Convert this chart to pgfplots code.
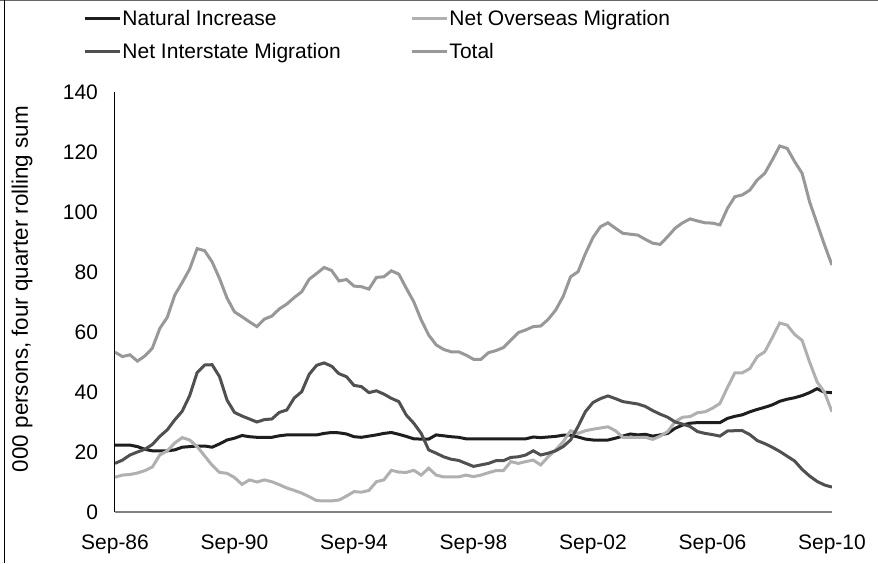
\documentclass[border=0pt]{standalone}
\usepackage{pgfplots}
\pgfplotsset{compat=1.18}
\usepackage{pgfplotstable}
\usepackage{fontspec}
\setmainfont{Liberation Sans}
\definecolor{cNI}{HTML}{1E1E1E}
\definecolor{cNOM}{HTML}{B0B0B0}
\definecolor{cNIM}{HTML}{505050}
\definecolor{cTot}{HTML}{989898}
\pgfplotstableread{
q ni nom nim tot
0 22.3 11.6 16.2 53.3
1 22.3 12.3 17.3 51.8
2 22.3 12.5 19.0 52.4
3 21.8 13.0 20.0 50.3
4 20.9 13.8 20.9 52.0
5 20.4 15.0 22.5 54.6
6 20.4 19.0 25.2 61.2
7 20.4 20.4 27.4 64.9
8 20.7 23.0 30.7 72.3
9 21.6 24.8 33.6 76.5
10 21.8 24.0 38.8 81.0
11 22.0 21.8 46.5 87.8
12 22.0 18.7 49.0 87.1
13 21.6 15.6 49.1 83.4
14 22.7 13.2 45.1 77.8
15 24.0 12.9 37.3 71.3
16 24.6 11.5 33.2 66.7
17 25.5 9.2 32.0 65.1
18 25.1 10.7 31.0 63.4
19 24.9 10.0 30.0 61.8
20 24.9 10.7 30.8 64.3
21 24.9 10.1 31.0 65.3
22 25.4 9.1 33.2 67.7
23 25.7 8.0 34.0 69.3
24 25.7 7.2 38.0 71.5
25 25.7 6.3 40.1 73.4
26 25.7 5.1 45.9 77.6
27 25.7 3.8 48.9 79.5
28 26.2 3.7 49.7 81.5
29 26.5 3.7 48.6 80.5
30 26.4 4.0 46.1 77.0
31 26.0 5.3 45.1 77.5
32 25.1 6.8 42.2 75.3
33 24.9 6.6 41.8 75.1
34 25.3 7.2 39.8 74.3
35 25.7 10.1 40.4 78.2
36 26.2 10.7 39.3 78.4
37 26.5 13.9 37.9 80.4
38 25.9 13.3 36.8 79.3
39 25.2 13.2 32.3 74.6
40 24.4 13.9 29.6 70.1
41 24.3 12.3 26.2 64.0
42 24.3 14.6 20.7 59.0
43 25.7 12.3 19.6 55.7
44 25.4 11.7 18.4 54.2
45 25.1 11.7 17.6 53.4
46 24.9 11.7 17.2 53.4
47 24.4 12.3 16.2 52.3
48 24.4 11.8 15.2 50.9
49 24.4 12.3 15.7 50.9
50 24.4 13.1 16.2 53.1
51 24.4 13.8 17.1 53.8
52 24.4 13.8 17.1 54.8
53 24.4 16.8 18.2 57.3
54 24.4 16.2 18.4 59.8
55 24.4 16.8 19.0 60.7
56 25.0 17.3 20.4 61.8
57 24.8 15.7 19.0 62.0
58 25.0 18.4 19.6 64.2
59 25.2 20.7 20.4 67.3
60 25.6 23.4 21.8 71.8
61 25.6 27.1 24.0 78.4
62 25.0 26.2 28.5 80.1
63 24.3 27.1 33.5 86.2
64 24.0 27.6 36.5 91.5
65 24.0 28.0 37.8 95.1
66 24.0 28.4 38.7 96.4
67 24.6 27.1 37.8 94.6
68 25.3 24.9 36.8 92.9
69 26.0 24.9 36.4 92.6
70 25.7 24.9 36.0 92.3
71 25.9 24.9 35.2 90.9
72 25.3 24.2 33.8 89.6
73 25.7 25.3 32.6 89.2
74 26.2 26.8 31.6 91.8
75 27.9 30.1 30.0 94.6
76 29.0 31.6 29.3 96.4
77 29.6 31.8 28.5 97.7
78 29.8 33.1 26.8 97.0
79 29.8 33.4 26.2 96.4
80 29.8 34.6 25.8 96.3
81 29.8 36.2 25.3 95.7
82 31.2 41.5 27.0 101.2
83 31.9 46.4 27.1 105.1
84 32.4 46.4 27.1 105.7
85 33.4 47.8 25.8 107.3
86 34.2 51.8 23.8 110.7
87 34.9 53.4 22.8 112.9
88 35.7 58.1 21.6 117.3
89 36.9 63.0 20.2 122.0
90 37.6 62.3 18.6 121.2
91 38.1 59.2 17.0 116.8
92 38.8 57.2 14.2 112.9
93 39.8 50.0 12.0 103.4
94 41.1 43.4 10.2 96.2
95 39.9 39.9 9.0 89.0
96 39.8 33.4 8.3 82.3
}\datatable
\begin{document}
\begin{tikzpicture}
\useasboundingbox (-57.5pt,-25.5pt) rectangle (381.5pt,256pt);
\begin{axis}[
  at={(0,0)}, anchor=south west,
  width=358.5pt, height=210pt, scale only axis,
  xmin=0, xmax=96, ymin=0, ymax=140,
  xtick={0,16,...,96},
  xticklabels={Sep-86,Sep-90,Sep-94,Sep-98,Sep-02,Sep-06,Sep-10},
  ytick={0,20,...,140},
  separate axis lines,
  axis x line*=bottom, axis y line*=left,
  x axis line style={-, draw=gray, line width=0.6pt},
  y axis line style={-, draw=black, line width=0.5pt},
  major tick length=0pt,
  /pgf/number format/assume math mode=true,
  ticklabel style={font=\fontsize{10.5}{12}\selectfont},
  yticklabel style={xshift=-5pt},
  xticklabel style={yshift=-8pt},
  ylabel={000 persons, four quarter rolling sum},
  ylabel style={at={(axis description cs:-0.1297,0.531)}, anchor=center, font=\fontsize{11.2}{13}\selectfont},
  legend columns=2,
  legend cell align=left,
  legend style={draw=none, fill=none, inner sep=0pt,
    at={(-0.0445,1.1357)}, anchor=west,
    font=\fontsize{10.5}{12}\selectfont,
    nodes={inner sep=0.5pt},
    /tikz/column sep=0pt, /tikz/row sep=6pt},
  legend image code/.code={\draw[#1, line width=1.5pt] (0pt,0pt) -- (17.5pt,0pt);},
]
\addplot[cNI, line width=1.5pt] table[x=q, y=ni] {\datatable};
\addlegendentry{\makebox[143.5pt][l]{\strut Natural Increase}}
\addplot[cNOM, line width=1.5pt] table[x=q, y=nom] {\datatable};
\addlegendentry{\strut Net Overseas Migration}
\addplot[cNIM, line width=1.5pt] table[x=q, y=nim] {\datatable};
\addlegendentry{\makebox[143.5pt][l]{\strut Net Interstate Migration}}
\addplot[cTot, line width=1.5pt] table[x=q, y=tot] {\datatable};
\addlegendentry{\strut Total}
\end{axis}
\draw[gray!80!black, line width=0.6pt] (-57.5pt,255.6pt) -- (381.5pt,255.6pt);
\draw[black, line width=0.5pt] (-55pt,256pt) -- (-55pt,-25.5pt);
\end{tikzpicture}
\end{document}
